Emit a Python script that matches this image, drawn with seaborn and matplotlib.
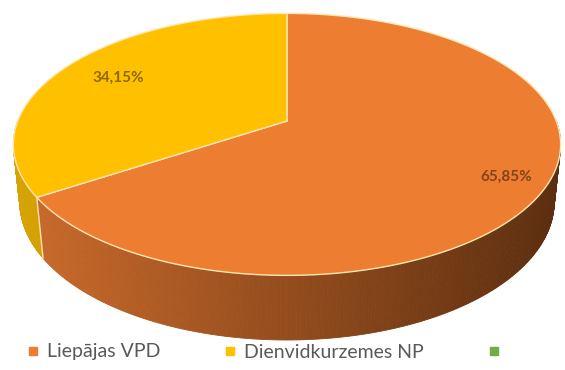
import numpy as np
import matplotlib
matplotlib.use("Agg")
import matplotlib.pyplot as plt
import seaborn as sns
from matplotlib.lines import Line2D

# Data
categories = ["Liepājas VPD", "Dienvidkurzemes NP", ""]
shares = [65.85, 34.15, 0.0]
value_labels = ["65,85%", "34,15%", ""]

# Styling
top_colors = ["#ED7D31", "#FFC000", "#70AD47"]
side_left = [(0.80, 0.42, 0.17), (0.84, 0.64, 0.02), (0.35, 0.55, 0.22)]
side_right = [(0.36, 0.18, 0.06), (0.62, 0.46, 0.00), (0.25, 0.40, 0.15)]
label_radius = [0.86, 0.76, 0.8]
rim_color = (1.0, 0.90, 0.70)

sns.set_theme(style="white")
plt.rcParams["font.family"] = ["Lato", "DejaVu Sans"]

W, H = 565, 370
fig = plt.figure(figsize=(W / 100, H / 100), dpi=100)
ax = fig.add_axes([0, 0, 1, 1])
ax.set_xlim(0, W)
ax.set_ylim(H, 0)
ax.axis("off")

# Perspective camera for the tilted disc
elev = np.radians(28.1)
dist = 4.94
scale = 1330.0
cx, cy = 287.0, 121.0
thick = 0.245


def project(x, y, z=0.0):
    depth = dist + y * np.cos(elev) - z * np.sin(elev)
    sx = cx + scale * x / depth
    sy = cy - scale * (y * np.sin(elev) + z * np.cos(elev)) / depth
    return sx, sy


# Slice angles: first slice starts at 12 o'clock and runs clockwise
fracs = np.array(shares) / sum(shares)
starts, ends = [], []
a = np.pi / 2
for f in fracs:
    starts.append(a)
    a = a - 2 * np.pi * f
    ends.append(a)

x_min, x_max = project(-1, 0)[0], project(1, 0)[0]

# Side walls (front half only), drawn far-to-near
segments = []
for i, (s, e) in enumerate(zip(starts, ends)):
    if fracs[i] == 0:
        continue
    th = np.linspace(e, s, 400)
    for t0, t1 in zip(th[:-1], th[1:]):
        tm = 0.5 * (t0 + t1)
        if np.sin(tm) > 0.02:
            continue
        segments.append((np.sin(tm), i, t0, t1))
segments.sort(key=lambda q: -q[0])
for _, i, t0, t1 in segments:
    p = [project(np.cos(t0), np.sin(t0), 0), project(np.cos(t1), np.sin(t1), 0),
         project(np.cos(t1), np.sin(t1), -thick), project(np.cos(t0), np.sin(t0), -thick)]
    xm = np.mean([q[0] for q in p])
    u = np.clip((xm - x_min) / (x_max - x_min), 0, 1)
    c = tuple((1 - u) * np.array(side_left[i]) + u * np.array(side_right[i]))
    ax.fill([q[0] for q in p], [q[1] for q in p], color=c, lw=0.6, ec=c, zorder=2)

# Vertical seams on the side where slices meet
for i, s in enumerate(starts):
    if fracs[i] == 0:
        continue
    if np.sin(s) < -0.02:
        p0 = project(np.cos(s), np.sin(s), 0)
        p1 = project(np.cos(s), np.sin(s), -thick)
        ax.plot([p0[0], p1[0]], [p0[1], p1[1]], color=rim_color, lw=1.0, zorder=3)

# Top faces
for i, (s, e) in enumerate(zip(starts, ends)):
    if fracs[i] == 0:
        continue
    th = np.linspace(s, e, 300)
    pts = [project(0, 0)] + [project(np.cos(t), np.sin(t)) for t in th]
    ax.fill([q[0] for q in pts], [q[1] for q in pts], color=top_colors[i],
            ec=rim_color, lw=1.0, zorder=4, joinstyle="round")

# Value labels
for i, (s, e) in enumerate(zip(starts, ends)):
    if not value_labels[i]:
        continue
    m = 0.5 * (s + e)
    r = label_radius[i]
    lx, ly = project(r * np.cos(m), r * np.sin(m))
    ax.text(lx, ly, value_labels[i], ha="center", va="center", fontsize=11,
            fontweight="bold", color="black", alpha=0.45, zorder=5)

# Legend
handles = [Line2D([], [], marker="s", linestyle="none", markersize=5.5,
                  markerfacecolor=c, markeredgecolor=c) for c in top_colors]
leg = ax.legend(handles, categories, ncol=3, loc="center",
                bbox_to_anchor=(0.474, 1 - 352 / H), frameon=False,
                fontsize=14, handlelength=0.55, handletextpad=0.45,
                columnspacing=3.3)
for t in leg.get_texts():
    t.set_color("#595959")

fig.savefig("out.png", dpi=100)
